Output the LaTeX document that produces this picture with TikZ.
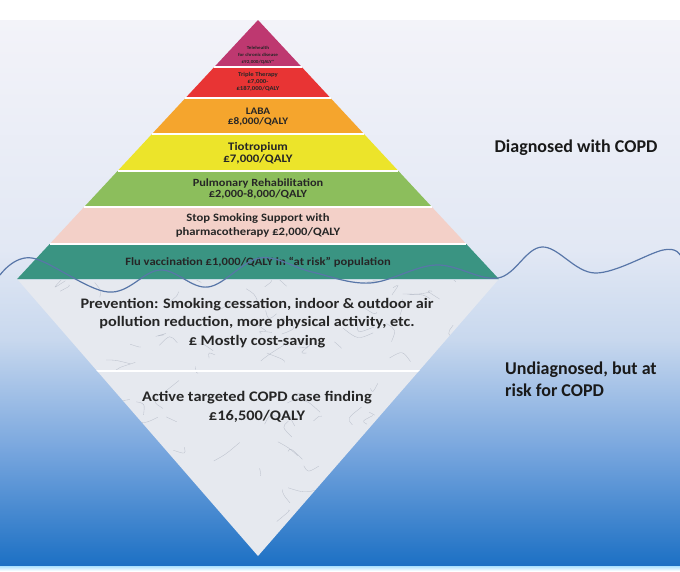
\documentclass[tikz,border=0pt]{standalone}
\usepackage{fontspec}
\setmainfont{Carlito}
\newfontfamily\widefont{Carlito}[FakeStretch=1.12]
\usetikzlibrary{positioning}
\definecolor{telecol}{RGB}{190,56,112}
\definecolor{triplecol}{RGB}{232,52,52}
\definecolor{labacol}{RGB}{245,165,45}
\definecolor{tiocol}{RGB}{236,228,42}
\definecolor{pulmcol}{RGB}{140,190,92}
\definecolor{stopcol}{RGB}{243,208,200}
\definecolor{flucol}{RGB}{58,148,130}
\definecolor{marblecol}{RGB}{230,233,239}
\definecolor{veincol}{RGB}{165,172,186}
\definecolor{wavecol}{RGB}{88,118,168}
\definecolor{bgtop}{RGB}{243,243,249}
\definecolor{bgmid}{RGB}{226,232,244}
\definecolor{bglow}{RGB}{200,216,238}
\definecolor{bgsea}{RGB}{120,166,222}
\definecolor{bgdeep}{RGB}{28,112,196}
\definecolor{bgrim}{RGB}{170,225,255}
\tikzset{
  bandtext/.style={text=black!85, align=center, inner sep=0pt},
  sidelabel/.style={font=\fontsize{18}{22}\selectfont\bfseries, text=black!90, align=left, inner sep=0pt},
  wave/.style={draw=wavecol, line width=1.2pt},
  vein/.style={draw=veincol, line width=0.35pt, opacity=0.65}
}

\begin{document}
\begin{tikzpicture}[x=1pt,y=-1pt]
  \useasboundingbox (0,0) rectangle (680,571);
  % background
  \fill[white] (0,0) rectangle (680,571);
  \shade[top color=bgtop, bottom color=bgmid] (0,20) rectangle (680,250);
  \shade[top color=bgmid, bottom color=bglow] (0,249.5) rectangle (680,340);
  \shade[top color=bglow, bottom color=bgsea] (0,339.5) rectangle (680,450);
  \shade[top color=bgsea, bottom color=bgdeep] (0,449.5) rectangle (680,566);
  \shade[top color=bgrim, bottom color=white] (0,566) rectangle (680,571);

  % pyramid bands
  \foreach \ytop/\ybot/\col in {20/67/telecol, 67/98/triplecol, 98/134/labacol,
      134/171/tiocol, 171/207/pulmcol, 207/244/stopcol, 244/279/flucol}{
    \pgfmathsetmacro\wt{(\ytop-20)*0.93}
    \pgfmathsetmacro\wb{(\ybot-20)*0.93}
    \fill[\col] ({258-\wt},\ytop) -- ({258+\wt},\ytop) -- ({258+\wb},\ybot) -- ({258-\wb},\ybot) -- cycle;
  }
  \foreach \yb in {67,98,134,171,207,244}{
    \pgfmathsetmacro\wb{(\yb-20)*0.93}
    \draw[white, line width=1.6pt] ({258-\wb},\yb) -- ({258+\wb},\yb);
  }

  % marble part under the water
  \fill[marblecol] (18,280) -- (498,280) -- (258,556) -- cycle;
  \begin{scope}
    \clip (18,280) -- (498,280) -- (258,556) -- cycle;
    \pgfmathsetseed{11}
    \foreach \i in {1,...,110}{
      \pgfmathsetmacro\vx{18+480*rnd}
      \pgfmathsetmacro\vy{280+276*rnd}
      \pgfmathsetmacro\dx{36*rnd-18}
      \pgfmathsetmacro\dy{24*rnd-12}
      \pgfmathsetmacro\ex{36*rnd-18}
      \pgfmathsetmacro\ey{24*rnd-12}
      \draw[vein] (\vx,\vy) .. controls ({\vx+\dx},{\vy+\dy}) .. ({\vx+\dx+\ex},{\vy+\dy+\ey});
    }
    \draw[white, line width=1.5pt] (18,371) -- (498,371);
  \end{scope}

  % labels in the pyramid
  \node (tele)[bandtext, font=\widefont\fontsize{4.6}{6.8}\selectfont\bfseries] at (258,55) {Telehealth\\for chronic disease\\£92,000/QALY*};
  \node (triple)[bandtext, font=\widefont\fontsize{6}{7.2}\selectfont\bfseries] at (258,82) {Triple Therapy\\£7,000-\\£187,000/QALY};
  \node (laba)[bandtext, font=\widefont\fontsize{10}{10.5}\selectfont\bfseries] at (258,117) {LABA\\£8,000/QALY};
  \node (tio)[bandtext, font=\widefont\fontsize{11.5}{11.5}\selectfont\bfseries] at (258,153) {Tiotropium\\£7,000/QALY};
  \node (pulm)[bandtext, font=\widefont\fontsize{11}{11.5}\selectfont\bfseries] at (258,189) {Pulmonary Rehabilitation\\£2,000-8,000/QALY};
  \node (stop)[bandtext, font=\widefont\fontsize{11.3}{14}\selectfont\bfseries] at (258,225) {Stop Smoking Support with\\pharmacotherapy £2,000/QALY};
  \node (flu)[bandtext, font=\widefont\fontsize{11.2}{12}\selectfont\bfseries] at (258,262) {Flu vaccination £1,000/QALY in “at risk” population};

  % labels under the water
  \node (prev)[bandtext, font=\widefont\fontsize{14.5}{18.5}\selectfont\bfseries] at (257,323)
    {\makebox[353pt][s]{Prevention: Smoking cessation, indoor \& outdoor air}\\pollution reduction, more physical activity, etc.\\£ Mostly cost-saving};
  \node (acf)[bandtext, font=\widefont\fontsize{14.6}{19}\selectfont\bfseries] at (257,407) {Active targeted COPD case finding\\£16,500/QALY};

  % side labels
  \node (diag)[sidelabel] at (576,148) {Diagnosed with COPD};
  \node (undiag)[sidelabel, anchor=north west] at (505,362) {Undiagnosed, but at\\risk for COPD};

  % water line
  \draw[wave] plot[smooth, tension=0.6] coordinates {(0,275) (32,258) (108,292) (160,270) (208,287)
    (260,258) (312,272) (370,283) (436,265) (498,278) (542,247) (595,273) (663,250) (680,255)};
\end{tikzpicture}
\end{document}
